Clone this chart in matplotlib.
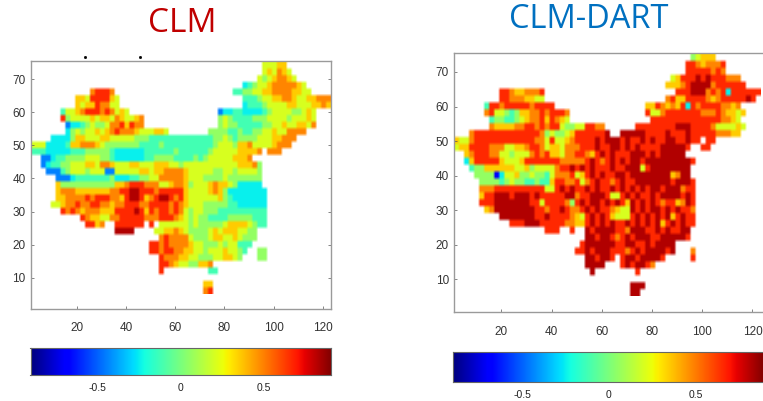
import numpy as np
import matplotlib
matplotlib.use("Agg")
import matplotlib.pyplot as plt

# value of each letter in the rows below ('.' = outside the map)
levels = {'0': -0.7, '1': -0.45, '2': -0.25, '3': -0.12, '4': 0.05,
          '5': 0.2, '6': 0.35, '7': 0.48, '8': 0.66, '9': 0.82}

# rows from y=74 down to y=6, two units each; one letter = two x units
clm_rows = [
    ".......... .......... .......... .......... .......555 66",
    ".......... .......... .......... .......... .......565 765",
    ".......... .......... .......... .......... ......5456 7765",
    ".......... .......... .......... .......... ...2345567 777765",
    ".......... ..78887... .......... .......... .334455667 7776655...",
    ".........6 65888865.. .......... .......... ...3334556 6776556677 7",
    ".........6 56687755.. .......... .......... ...2333455 5566555667 6",
    "......3556 7888787565 .......... ........12 2332222345 55544565..",
    "......8455 5565665765 567....... ........45 4333344455 55455565..",
    ".......122 3454457786 877....... ........45 4433333445 56556657..",
    ".......245 4556567877 76555665.. ......4444 3343344556 557777....",
    "....222246 6555665555 5444333333 3333333445 4344445556 6777......",
    "5552222366 7776544444 4433334333 3333333455 5466755556 777.......",
    "3332222233 3444443222 2223333334 3333334555 5566667.77 7.........",
    "..11233444 4555443222 2223344443 3334345555 56667.....",
    "..12334455 5665776555 6655566655 4555555555 5566674...",
    "...1113455 5455511555 5566566777 7655555445 5455554...",
    ".....11123 3333334222 3344557777 7655544445 4444444...",
    ".....64444 4444444667 8887775567 7645556766 5422222...",
    ".....67776 6666667788 9988878888 8655556764 22222222..",
    ".....66777 7878887768 9986789987 8655555564 32222222..",
    "....556778 7788776778 8877888878 7655544444 33222222..",
    "......8787 6777666888 8986878878 7545544433 33333333..",
    ".......... 8766557788 8887778887 6545443333 44444333..",
    ".......... .8867..888 888.8.5555 5545444445 66665433..",
    ".......... .......999 9....55667 6544445656 665544....",
    ".......... .......... ......7877 7754445665 565444....",
    ".......... .......... ....887877 7765544454 55333.....",
    ".......... .......... ....887887 7665545556 5543..44..",
    ".......... .......... ......8777 6655444556 654...44..",
    ".......... .......... ......8876 5544667...",
    ".......... .......... ......8... ......33..",
    "",
    ".......... .......... .......... .....66...",
    ".......... .......... .......... .....78...",
]

dart_rows = [
    ".......... .......... .......... .......... .......456 66",
    ".......... .......... .......... .......... ......8876 7778",
    ".......... .......... .......... .......... ......8888 8787",
    ".......... .......... .......... .......... ...5688898 9888777...",
    ".......... .......... .......... .......... ..66678999 97888888..",
    ".........8 87667778.. .......... .......... ....888999 7878288888 8",
    ".........8 87776655.. .......... .......... ..78668888 7678888898",
    "......3887 8888878888 .......... ........66 8767682878 8887767...",
    "......7855 4346677878 887....... ........85 5788888887 77876656..",
    ".......344 3345677868 765....... .........8 8888888888 8887765...",
    ".......766 6677887878 8544558877 ......8888 8888999888 87555565..",
    "...7888888 8888888745 4456888888 9..9999988 8898889888 8877766...",
    "6557888888 8888887758 5567888898 9998988989 889988988. 88........",
    "5668888777 5566788756 6577788898 8998989888 8999998..8 8.........",
    "..67888775 5455578786 6577887689 8988899989 899999....",
    "..26888886 5556888888 8777778987 8989899899 99999998..",
    "...3446666 6655645555 7889898988 8988999589 9999999...",
    "....444402 5564454435 7778568989 8899899999 9996799...",
    ".....44443 4544334336 8877857898 8789889999 99989998..",
    ".....77788 8888888855 8989889898 8989898989 98999788..",
    ".....68899 9899989888 8899788999 8558989889 89999898..",
    ".....88899 9999988588 8874898998 9898698989 87886798..",
    "......6799 9999998878 8987789898 8765598989 98989887..",
    ".........9 9999998898 8887658989 8655589898 98968988..",
    ".......... .888999888 8877668989 8988989898 96898988..",
    ".......... ........88 8..8..9899 9988799988 9898899...",
    ".......... .......... ......9989 9878989998 8999998...",
    ".......... .......... .....89999 9988998898 9999......",
    ".......... .......... ....889899 9888789899 9989...7..",
    ".......... .......... ......9989 98.8998999 98.....8..",
    ".......... .......... ......9999 ...8989987",
    ".......... .......... .......9.. ......8...",
    "",
    ".......... .......... .......... .....999..",
    ".......... .......... .......... .....99...",
]

xticks = [20, 40, 60, 80, 100, 120]
yticks = [10, 20, 30, 40, 50, 60, 70]
cbar_ticks = [-0.5, 0, 0.5]
cbar_labels = ['-0.5', '0', '0.5']

W, H = 763, 401
plt.rcParams['font.family'] = ['Liberation Sans', 'DejaVu Sans']


def to_grid(rows):
    grid = []
    for row in rows:
        row = row.replace(' ', '').ljust(61, '.')
        grid.append([levels.get(ch, np.nan) for ch in row])
    # double the cells so the bilinear smoothing stays small
    grid = np.repeat(np.repeat(np.array(grid), 2, axis=0), 2, axis=1)
    return np.ma.masked_invalid(grid)


def pix_axes(fig, left, top, right, bottom):
    return fig.add_axes([left / W, 1 - bottom / H, (right - left) / W, (bottom - top) / H])


def draw_map(ax, rows, xright, ybottom):
    # white outside the map, otherwise the edges blend towards black
    cmap = plt.get_cmap('jet').copy()
    cmap.set_bad('white')
    ax.imshow(to_grid(rows), cmap=cmap, vmin=-0.9, vmax=0.9, aspect='auto',
              extent=[1, 123, 5, 75], interpolation='bilinear', interpolation_stage='rgba')
    ax.set_xlim(1, xright)
    ax.set_ylim(ybottom, 75.5)
    ax.set_xticks(xticks)
    ax.set_yticks(yticks)
    ax.tick_params(axis='x', pad=10)
    ax.tick_params(direction='in', length=2, width=0.5, color='#555555',
                   labelsize=8.5, labelcolor='#333333', top=False, right=True)
    for s in ax.spines.values():
        s.set_color('#9a9a9a')
        s.set_linewidth(1)


def draw_cbar(ax):
    vals = np.linspace(-0.9, 0.9, 256).reshape(1, -1)
    ax.imshow(vals, cmap='jet', aspect='auto', extent=[-0.9, 0.9, 0, 1])
    ax.set_yticks([])
    ax.set_xticks(cbar_ticks)
    ax.set_xticklabels(cbar_labels)
    ax.tick_params(length=0, pad=6, labelsize=7.5, labelcolor='#222222')
    for s in ax.spines.values():
        s.set_color('#666666')
        s.set_linewidth(0.8)


fig = plt.figure(figsize=(W / 100, H / 100), dpi=100)

ax1 = pix_axes(fig, 30.5, 61, 331, 308.5)
draw_map(ax1, clm_rows, 123.4, 0.7)
# two stray specks above the left map
ax1.plot([23.2, 45.7], [76.7, 76.7], ls='', marker='s', ms=1, color='black', clip_on=False)
ax2 = pix_axes(fig, 453.7, 53, 766, 312)
draw_map(ax2, dart_rows, 125.4, 0.5)

cb1 = pix_axes(fig, 30.5, 348, 331, 375)
draw_cbar(cb1)
cb2 = pix_axes(fig, 453, 352, 765, 382)
draw_cbar(cb2)

fig.text(182 / W, 1 - 24 / H, 'CLM', color='#c00000', fontsize=24,
         family='Open Sans', ha='center', va='center')
fig.text(589 / W, 1 - 20 / H, 'CLM-DART', color='#0070c0', fontsize=23.5,
         family='Open Sans', ha='center', va='center')

fig.savefig('out.png', dpi=100)
